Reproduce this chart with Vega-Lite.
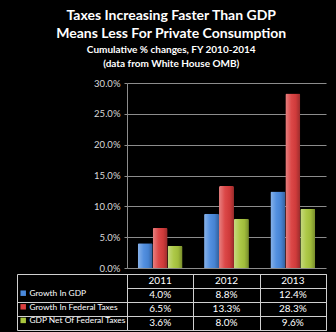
{
  "$schema": "https://vega.github.io/schema/vega-lite/v6.json",
  "background": "black",
  "padding": {"left": 16, "top": 9, "right": 11, "bottom": 4},
  "spacing": 0,
  "title": {
    "text": ["Taxes Increasing Faster Than GDP", "Means Less For Private Consumption"],
    "subtitle": ["Cumulative % changes, FY 2010-2014", "(data from White House OMB)"],
    "color": "white",
    "subtitleColor": "white",
    "font": "Lato",
    "fontSize": 14,
    "fontWeight": "bold",
    "lineHeight": 18,
    "subtitleFont": "Lato",
    "subtitleFontSize": 10,
    "subtitleFontWeight": "bold",
    "subtitleLineHeight": 14,
    "subtitlePadding": 4,
    "anchor": "middle",
    "offset": 9
  },
  "data": {
    "values": [
      {"year": "2011", "series": "Growth In GDP", "value": 0.040},
      {"year": "2011", "series": "Growth In Federal Taxes", "value": 0.065},
      {"year": "2011", "series": "GDP Net Of Federal Taxes", "value": 0.036},
      {"year": "2012", "series": "Growth In GDP", "value": 0.088},
      {"year": "2012", "series": "Growth In Federal Taxes", "value": 0.133},
      {"year": "2012", "series": "GDP Net Of Federal Taxes", "value": 0.080},
      {"year": "2013", "series": "Growth In GDP", "value": 0.124},
      {"year": "2013", "series": "Growth In Federal Taxes", "value": 0.283},
      {"year": "2013", "series": "GDP Net Of Federal Taxes", "value": 0.096}
    ]
  },
  "vconcat": [
    {
      "width": 199,
      "height": 185,
      "view": {"stroke": null},
      "encoding": {
        "x": {"field": "year", "type": "nominal", "scale": {"paddingInner": 0, "paddingOuter": 0}, "axis": null},
        "xOffset": {"field": "series", "type": "nominal", "scale": {"domain": ["Growth In GDP", "Growth In Federal Taxes", "GDP Net Of Federal Taxes"], "paddingInner": 0, "paddingOuter": 0.72}},
        "y": {
          "field": "value", "type": "quantitative",
          "scale": {"domain": [0, 0.3], "nice": false},
          "axis": {
            "title": null, "format": ".1%", "values": [0, 0.05, 0.1, 0.15, 0.2, 0.25, 0.3],
            "grid": true, "gridColor": "#8c8c8c", "domainColor": "#8c8c8c", "tickColor": "#8c8c8c",
            "tickSize": 3, "labelColor": "#d9d9d9", "labelFont": "Lato", "labelFontSize": 9.5, "labelPadding": 4
          }
        }
      },
      "layer": [
        {
          "mark": {"type": "bar", "cornerRadiusTopLeft": 1.5, "cornerRadiusTopRight": 1.5},
          "encoding": {
            "color": {
              "field": "series", "type": "nominal",
              "scale": {
                "domain": ["Growth In GDP", "Growth In Federal Taxes", "GDP Net Of Federal Taxes"],
                "range": ["#4a8ade", "#da3e3e", "#a9c63e"]
              },
              "legend": {
                "orient": "none", "legendX": -108, "legendY": 206, "title": null,
                "symbolType": "square", "symbolSize": 30, "symbolStrokeWidth": 0,
                "labelColor": "white", "labelFont": "Lato", "labelFontSize": 8.4,
                "rowPadding": 4.6, "labelOffset": 2, "padding": 0
              }
            }
          }
        },
        {
          "mark": {
            "type": "bar", "cornerRadiusTopLeft": 1.5, "cornerRadiusTopRight": 1.5,
            "fill": {"gradient": "linear", "x1": 0, "y1": 0, "x2": 1, "y2": 0, "stops": [
              {"offset": 0, "color": "rgba(255,255,255,0.35)"},
              {"offset": 0.4, "color": "rgba(255,255,255,0.05)"},
              {"offset": 0.7, "color": "rgba(0,0,0,0.05)"},
              {"offset": 1, "color": "rgba(0,0,0,0.3)"}
            ]}
          }
        }
      ]
    },
    {
      "width": 199,
      "height": 56,
      "view": {"stroke": "#d0d0d0"},
      "encoding": {
        "x": {
          "field": "year", "type": "nominal", "scale": {"paddingInner": 0, "paddingOuter": 0},
          "axis": {"orient": "top", "title": null, "grid": true, "tickBand": "extent", "gridColor": "#d0d0d0", "labels": false, "ticks": false, "domain": false}
        }
      },
      "layer": [
        {
          "mark": {"type": "text", "color": "white", "font": "Lato", "fontSize": 10},
          "encoding": {
            "y": {
              "field": "series", "type": "nominal",
              "scale": {"domain": ["Year", "Growth In GDP", "Growth In Federal Taxes", "GDP Net Of Federal Taxes"], "paddingInner": 0, "paddingOuter": 0},
              "axis": {
                "title": null, "labels": false, "offset": 110, "domainColor": "#d0d0d0",
                "tickBand": "extent", "tickSize": -110,
                "tickColor": {"condition": {"test": "datum.value === 'Year'", "value": "transparent"}, "value": "#d0d0d0"},
                "grid": true, "gridColor": "#d0d0d0"
              }
            },
            "text": {"field": "value", "type": "quantitative", "format": ".1%"}
          }
        },
        {
          "transform": [{"filter": "datum.series === 'Growth In GDP'"}],
          "mark": {"type": "text", "color": "white", "font": "Lato", "fontSize": 10},
          "encoding": {
            "y": {"datum": "Year", "type": "nominal"},
            "text": {"field": "year", "type": "nominal"}
          }
        }
      ]
    }
  ]
}
